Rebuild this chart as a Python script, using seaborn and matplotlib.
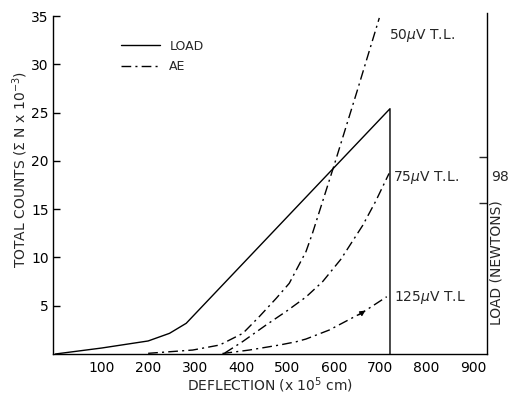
import matplotlib
matplotlib.use("Agg")
import matplotlib.pyplot as plt
from matplotlib.lines import Line2D
import seaborn as sns

# ---- data ----
load_x = [0, 100, 200, 246, 282, 721, 721]
load_y = [0, 0.62, 1.35, 2.14, 3.18, 25.4, 0]

ae50_x = [200, 296, 354, 404, 440, 476, 504, 540, 554, 601, 650, 698]
ae50_y = [0.07, 0.41, 0.93, 2.14, 3.9, 5.77, 7.32, 10.6, 12.5, 19.6, 27.2, 34.8]

ae75_x = [365, 404, 454, 500, 540, 576, 615, 662, 690, 719]
ae75_y = [0.1, 1.3, 3.0, 4.5, 5.9, 7.5, 9.8, 13.3, 15.8, 18.7]

ae125_x = [360, 418, 483, 519, 540, 590, 662, 714]
ae125_y = [0.05, 0.41, 0.93, 1.27, 1.55, 2.48, 4.3, 5.93]

x_ticks = [100, 200, 300, 400, 500, 600, 700, 800, 900]
y_ticks = [5, 10, 15, 20, 25, 30, 35]
right_ticks = [15.6, 20.4]
right_label_pos = 18.5
right_label = "98"

curve_labels = ["50$\\mu$V T.L.", "75$\\mu$V T.L.", "125$\\mu$V T.L"]
curve_label_x = [719, 728, 730]
curve_label_y = [33.0, 18.3, 5.9]

sns.set_style("white")
plt.rcParams["font.family"] = ["DejaVu Sans"]
plt.rcParams["mathtext.fontset"] = "dejavusans"

fig = plt.figure(figsize=(5.09, 3.97), dpi=100)
ax = fig.add_axes([53 / 509, 1 - 354 / 397, (487 - 53) / 509, (354 - 16) / 397])

dashdot = (0, (7, 3, 1.5, 3))
lw = 1.0

sns.lineplot(x=load_x, y=load_y, ax=ax, color="black", lw=lw,
             estimator=None, sort=False)
for xs, ys in [(ae50_x, ae50_y), (ae75_x, ae75_y), (ae125_x, ae125_y)]:
    sns.lineplot(x=xs, y=ys, ax=ax, color="black", lw=lw, linestyle=dashdot,
                 estimator=None, sort=False)

ax.set_xlim(-5, 930)
ax.set_ylim(0, 35)
ax.set_xticks(x_ticks)
ax.set_yticks(y_ticks)
for s in ["top", "right"]:
    ax.spines[s].set_visible(False)
for s in ["left", "bottom"]:
    ax.spines[s].set_color("black")
    ax.spines[s].set_linewidth(1.0)
ax.tick_params(axis="both", direction="in", length=5, width=1.0,
               colors="black", labelsize=10)
ax.tick_params(axis="y", pad=3)
ax.tick_params(axis="x", pad=5)

ax.set_xlabel("DEFLECTION (x 10$^5$ cm)", fontsize=10, labelpad=0)
ax.set_ylabel("TOTAL COUNTS ($\\Sigma$ N x 10$^{-3}$)", fontsize=10,
              labelpad=1, y=0.545)

# right axis (load)
ax2 = ax.twinx()
ax2.set_ylim(0, 35)
ax2.set_yticks(right_ticks)
ax2.set_yticklabels([])
ax2.set_yticks([right_label_pos], minor=True)
ax2.set_yticklabels([right_label], minor=True)
ax2.tick_params(axis="y", which="major", direction="in", length=6, width=1.0)
ax2.tick_params(axis="y", which="minor", length=0, pad=3, labelsize=10)
for s in ["top", "left", "bottom"]:
    ax2.spines[s].set_visible(False)
ax2.spines["right"].set_color("black")
ax2.spines["right"].set_linewidth(1.0)
ax2.spines["right"].set_bounds(0, 35.3)
ax2.text(1.023, 0.27, "LOAD (NEWTONS)", transform=ax.transAxes, rotation=90,
         ha="center", va="center", fontsize=10)

# curve labels
for t, tx, ty in zip(curve_labels, curve_label_x, curve_label_y):
    ax.text(tx, ty, t, fontsize=10, ha="left", va="center")

# arrowhead on 125 uV curve
ax.annotate("", xy=(668, 4.5), xytext=(654, 4.05),
            arrowprops=dict(arrowstyle="-|>", color="black", lw=0.8,
                            mutation_scale=8, shrinkA=0, shrinkB=0))

# legend
handles = [Line2D([], [], color="black", lw=lw),
           Line2D([], [], color="black", lw=lw, linestyle=dashdot)]
ax.legend(handles, ["LOAD", "AE"], loc="upper left",
          bbox_to_anchor=(0.157, 0.93), frameon=False, fontsize=9,
          handlelength=3.1, handletextpad=0.75, labelspacing=0.6,
          borderpad=0, borderaxespad=0)

fig.savefig("out.png", dpi=100)
